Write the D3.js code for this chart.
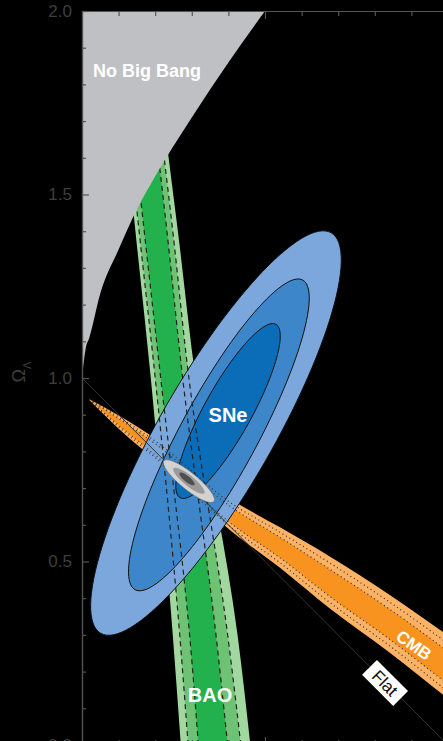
<!DOCTYPE html>
<html>
<head>
<meta charset="utf-8">
<script src="https://cdn.jsdelivr.net/npm/d3@7"></script>
<style>
  html, body { margin: 0; padding: 0; background: #000; overflow: hidden; }
</style>
</head>
<body>
<div id="chart"></div>
<script>
// ---- data ----
const lambdaMajorTicks = [0, 0.5, 1.0, 1.5, 2.0];
const lambdaTickLabels = ['0.0', '0.5', '1.0', '1.5', '2.0'];
const minorTickValues = [0.1, 0.2, 0.3, 0.4, 0.6, 0.7, 0.8, 0.9, 1.1, 1.2, 1.3, 1.4, 1.6, 1.7, 1.8, 1.9];
const matterMajorTicks = [0.5, 1.0];
const matterMinorTicks = [0.1, 0.2, 0.3, 0.4, 0.6, 0.7, 0.8, 0.9];

// No Big Bang boundary (Omega_M, Omega_Lambda)
const noBigBangM = [0, 0.01, 0.02, 0.05, 0.1, 0.15, 0.2, 0.3, 0.4, 0.5];
const noBigBangL = [1.0, 1.08, 1.11, 1.23, 1.35, 1.46, 1.55, 1.71, 1.86, 2.0];

// BAO band edges, given per Omega_Lambda level
const baoLambda   = [0.0, 0.3, 1.0, 1.4, 2.0];
const bao2Left    = [0.270, 0.248, 0.188, 0.146, 0.085];
const bao2Right   = [0.460, 0.425, 0.310, 0.262, 0.185];
const baoMidLeft  = [0.290, 0.267, 0.200, 0.156, 0.094];
const baoMidRight = [0.434, 0.398, 0.292, 0.248, 0.175];
const bao1Left    = [0.318, 0.294, 0.215, 0.170, 0.105];
const bao1Right   = [0.398, 0.366, 0.275, 0.232, 0.162];

// CMB band edges, given per Omega_M
const cmbM       = [0.020, 0.104, 0.205, 0.404, 0.541, 0.678, 0.842, 1.0];
const cmb2Upper  = [0.942, 0.896, 0.832, 0.672, 0.593, 0.513, 0.408, 0.298];
const cmb2Lower  = [0.940, 0.858, 0.772, 0.586, 0.483, 0.371, 0.251, 0.126];
const cmb1Upper  = [0.941, 0.887, 0.817, 0.651, 0.566, 0.478, 0.369, 0.255];
const cmb1Lower  = [0.941, 0.868, 0.786, 0.606, 0.510, 0.404, 0.287, 0.165];

// SNe confidence contours (outer -> inner)
const sneCenterM   = [0.366, 0.374, 0.399];
const sneCenterL   = [0.850, 0.845, 0.910];
const sneSemiMajor = [0.630, 0.480, 0.270];
const sneSemiMinor = [0.155, 0.105, 0.065];
const sneAngle     = [60.0, 61.5, 61.0];

// combined contours (outer -> inner)
const combCenterM   = [0.292, 0.292, 0.287];
const combCenterL   = [0.719, 0.720, 0.725];
const combSemiMajor = [0.088, 0.054, 0.026];
const combSemiMinor = [0.023, 0.014, 0.008];
const combAngle     = [-39, -39, -39];

// ---- layout ----
const W = 443, H = 741;
const x = d3.scaleLinear().domain([0, 1]).range([82, 448]);
const y = d3.scaleLinear().domain([0, 2]).range([745, 11]);

const svg = d3.select('#chart').append('svg')
    .attr('width', W)
    .attr('height', H)
    .style('display', 'block');

svg.append('rect').attr('width', W).attr('height', H).attr('fill', '#000');

const plot = svg.append('g');

// ellipse outline in data space
function ellipse(cm, cl, a, b, deg) {
    const th = deg * Math.PI / 180;
    const pts = [];
    for (let i = 0; i < 120; i++) {
        const t = i / 120 * 2 * Math.PI;
        const u = a * Math.cos(t), v = b * Math.sin(t);
        pts.push([cm + u * Math.cos(th) - v * Math.sin(th),
                  cl + u * Math.sin(th) + v * Math.cos(th)]);
    }
    return pts;
}
const closedLine = d3.line()
    .x(d => x(d[0]))
    .y(d => y(d[1]))
    .curve(d3.curveCardinalClosed);

// BAO fills
const baoArea = (left, right) => d3.area()
    .y((d, i) => y(baoLambda[i]))
    .x0((d, i) => x(left[i]))
    .x1((d, i) => x(right[i]))
    .curve(d3.curveMonotoneY)(baoLambda);

plot.append('path').attr('d', baoArea(bao2Left, bao2Right)).attr('fill', '#a2d89f');
plot.append('path').attr('d', baoArea(baoMidLeft, baoMidRight)).attr('fill', '#6dc273');
plot.append('path').attr('d', baoArea(bao1Left, bao1Right)).attr('fill', '#23b14d');

// CMB fills
const cmbArea = (upper, lower) => d3.area()
    .x((d, i) => x(cmbM[i]))
    .y0((d, i) => y(lower[i]))
    .y1((d, i) => y(upper[i]))
    .curve(d3.curveMonotoneX)(cmbM);

plot.append('path').attr('d', cmbArea(cmb2Upper, cmb2Lower)).attr('fill', '#fbb265');
plot.append('path').attr('d', cmbArea(cmb1Upper, cmb1Lower)).attr('fill', '#f7931e');

// SNe contours
const sneColors = ['#7ba7dc', '#3d86c9', '#0b6db8'];
sneCenterM.forEach((cm, i) => {
    plot.append('path')
        .attr('d', closedLine(ellipse(cm, sneCenterL[i], sneSemiMajor[i], sneSemiMinor[i], sneAngle[i])))
        .attr('fill', sneColors[i])
        .attr('stroke', '#111')
        .attr('stroke-width', 1);
});

// BAO dashed contour lines (shown through the SNe contours)
const vLine = (vals) => d3.line()
    .y((d, i) => y(baoLambda[i]))
    .x((d, i) => x(vals[i]))
    .curve(d3.curveMonotoneY)(baoLambda);

[baoMidLeft, baoMidRight, bao1Left, bao1Right].forEach(vals => {
    plot.append('path')
        .attr('d', vLine(vals))
        .attr('fill', 'none')
        .attr('stroke', '#222')
        .attr('stroke-width', 1.2)
        .attr('stroke-dasharray', '5,4');
});

// CMB dotted contour lines
const hLine = (vals) => d3.line()
    .x((d, i) => x(cmbM[i]))
    .y((d, i) => y(vals[i]))
    .curve(d3.curveMonotoneX)(cmbM);

const cmbOuterInsetU = cmb2Upper.map((v, i) => (v + cmb1Upper[i]) / 2);
const cmbOuterInsetL = cmb2Lower.map((v, i) => (v + cmb1Lower[i]) / 2);
[cmb1Upper, cmb1Lower, cmbOuterInsetU, cmbOuterInsetL].forEach(vals => {
    plot.append('path')
        .attr('d', hLine(vals))
        .attr('fill', 'none')
        .attr('stroke', '#333')
        .attr('stroke-width', 1.2)
        .attr('stroke-dasharray', '1,3');
});

// No Big Bang region
const nbbArea = d3.area()
    .x((d, i) => x(noBigBangM[i]))
    .y0(y(2.0))
    .y1((d, i) => y(noBigBangL[i]))
    .curve(d3.curveMonotoneX);
plot.append('path')
    .attr('d', nbbArea(noBigBangM))
    .attr('fill', '#bfc0c4');

// Flat universe line
plot.append('line')
    .attr('x1', x(0)).attr('y1', y(1))
    .attr('x2', x(1)).attr('y2', y(0))
    .attr('stroke', '#333')
    .attr('stroke-width', 1);

// combined contours
const combColors = ['#d2d2d2', '#9a9a9a', '#4f4f4f'];
combCenterM.forEach((cm, i) => {
    plot.append('path')
        .attr('d', closedLine(ellipse(cm, combCenterL[i], combSemiMajor[i], combSemiMinor[i], combAngle[i])))
        .attr('fill', combColors[i])
        .attr('stroke', i === 0 ? '#666' : 'none')
        .attr('stroke-width', 0.6);
});

// ---- axes ----
const axisColor = '#555';
const leftMajor = svg.append('g')
    .attr('transform', `translate(${x(0)},0)`)
    .call(d3.axisLeft(y).tickValues(lambdaMajorTicks)
        .tickFormat((d, i) => lambdaTickLabels[i])
        .tickSizeInner(-7).tickSizeOuter(0).tickPadding(10));
const leftMinor = svg.append('g')
    .attr('transform', `translate(${x(0)},0)`)
    .call(d3.axisLeft(y).tickValues(minorTickValues)
        .tickFormat('').tickSizeInner(-4).tickSizeOuter(0));
const topMinor = svg.append('g')
    .attr('transform', `translate(0,${y(2)})`)
    .call(d3.axisTop(x).tickValues(matterMinorTicks)
        .tickFormat('').tickSizeInner(-5).tickSizeOuter(0));
const topMajor = svg.append('g')
    .attr('transform', `translate(0,${y(2)})`)
    .call(d3.axisTop(x).tickValues(matterMajorTicks)
        .tickFormat('').tickSizeInner(-8).tickSizeOuter(0));
const bottomMinor = svg.append('g')
    .attr('transform', `translate(0,${y(0)})`)
    .call(d3.axisBottom(x).tickValues(matterMinorTicks)
        .tickFormat('').tickSizeInner(-5).tickSizeOuter(0));
const bottomMajor = svg.append('g')
    .attr('transform', `translate(0,${y(0)})`)
    .call(d3.axisBottom(x).tickValues(matterMajorTicks)
        .tickFormat('').tickSizeInner(-8).tickSizeOuter(0));

[leftMajor, leftMinor, topMinor, topMajor, bottomMinor, bottomMajor].forEach(g => {
    g.selectAll('path.domain').attr('stroke', axisColor).attr('stroke-width', 1.2);
    g.selectAll('.tick line').attr('stroke', axisColor).attr('stroke-width', 1.2);
});
leftMajor.selectAll('.tick text')
    .attr('fill', '#3e3e3e')
    .style('font-family', '"Liberation Sans", Arial, sans-serif')
    .style('font-size', '17px');

// y-axis title: Omega_Lambda
const yTitle = svg.append('text')
    .attr('transform', `translate(25,${y(1.0) - 6}) rotate(-90)`)
    .attr('text-anchor', 'middle')
    .attr('fill', '#3e3e3e')
    .style('font-family', '"Liberation Sans", Arial, sans-serif')
    .style('font-size', '18px');
yTitle.append('tspan').text('Ω');
yTitle.append('tspan').attr('baseline-shift', 'sub').style('font-size', '11px').text('Λ');

// ---- labels ----
const boldFont = '"Liberation Sans", Arial, Helvetica, sans-serif';

svg.append('text')
    .attr('x', x(0.03)).attr('y', y(1.82))
    .attr('fill', '#fff')
    .style('font-family', boldFont).style('font-weight', 'bold').style('font-size', '18px')
    .text('No Big Bang');

svg.append('text')
    .attr('x', x(0.399)).attr('y', y(0.88))
    .attr('text-anchor', 'middle')
    .attr('fill', '#fff')
    .style('font-family', boldFont).style('font-weight', 'bold').style('font-size', '20px')
    .text('SNe');

svg.append('text')
    .attr('x', x(0.35)).attr('y', y(0.118))
    .attr('text-anchor', 'middle')
    .attr('fill', '#fff')
    .style('font-family', boldFont).style('font-weight', 'bold').style('font-size', '20px')
    .text('BAO');

svg.append('text')
    .attr('transform', `translate(${x(0.907)},${y(0.272)}) rotate(35)`)
    .attr('text-anchor', 'middle')
    .attr('dy', '0.35em')
    .attr('fill', '#fff')
    .style('font-family', boldFont).style('font-weight', 'bold').style('font-size', '17px')
    .text('CMB');

const flat = svg.append('g')
    .attr('transform', `translate(${x(0.828)},${y(0.169)}) rotate(45)`);
flat.append('rect')
    .attr('x', -22).attr('y', -10.5).attr('width', 44).attr('height', 21)
    .attr('fill', '#fff');
flat.append('text')
    .attr('text-anchor', 'middle')
    .attr('dy', '0.36em')
    .attr('fill', '#111')
    .style('font-family', boldFont).style('font-size', '17px')
    .text('Flat');
</script>
</body>
</html>
